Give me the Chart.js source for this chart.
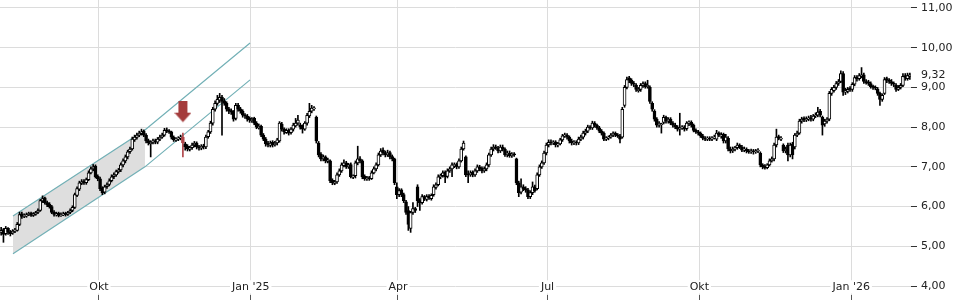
<!DOCTYPE html>
<html><head><meta charset="utf-8">
<script src="https://cdn.jsdelivr.net/npm/chart.js@4/dist/chart.umd.min.js"></script>
<style>html,body{margin:0;padding:0;background:#fff}#wrap{width:960px;height:300px}</style>
</head><body><div id="wrap"><canvas id="c" width="960" height="300"></canvas></div>
<script>
// ---- data ----
const firstTradingDay = [2024, 7, 1]; // 1 Aug 2024, weekdays only
const opens = [
5.35,5.42,5.32,5.45,5.36,5.33,5.38,5.40,5.55,5.82,
5.75,5.76,5.80,5.83,5.78,5.80,5.85,5.90,6.14,6.22,
6.10,6.06,6.00,5.86,5.79,5.83,5.77,5.79,5.83,5.80,
5.85,5.90,5.98,6.28,6.44,6.58,6.64,6.60,6.68,6.85,
6.95,7.02,6.76,6.70,6.46,6.36,6.50,6.56,6.65,6.75,
6.80,6.88,6.92,7.05,7.15,7.25,7.38,7.45,7.68,7.74,
7.80,7.84,7.90,7.80,7.66,7.58,7.62,7.66,7.62,7.70,
7.75,7.80,7.93,7.90,7.88,7.75,7.67,7.70,7.72,7.75,
7.58,7.52,7.44,7.48,7.55,7.60,7.50,7.47,7.53,7.50,
7.76,7.88,8.10,8.45,8.60,8.68,8.76,8.66,8.60,8.46,
8.42,8.38,8.22,8.55,8.46,8.40,8.30,8.28,8.22,8.16,
8.22,8.10,7.98,8.02,7.80,7.70,7.60,7.54,7.62,7.55,
7.60,7.65,8.08,7.95,7.86,7.92,7.86,7.95,8.03,8.10,
8.05,8.02,7.95,8.10,8.28,8.40,8.46,8.25,7.60,7.32,
7.20,7.25,7.14,7.15,6.66,6.58,6.62,6.80,6.90,7.03,
7.10,7.00,7.06,6.74,6.78,7.10,7.20,7.15,6.76,6.70,
6.73,6.70,6.85,6.95,7.05,7.30,7.42,7.36,7.30,7.36,
7.26,7.20,6.50,6.30,6.42,6.30,6.12,5.90,5.45,5.85,
5.95,6.50,6.15,6.10,6.25,6.18,6.26,6.20,6.30,6.48,
6.55,6.75,6.78,6.86,6.76,6.90,6.95,7.03,7.06,7.00,
7.15,7.45,7.25,6.82,6.80,6.86,6.80,6.90,7.00,6.96,
6.90,6.95,7.05,7.30,7.45,7.50,7.48,7.40,7.50,7.45,
7.30,7.35,7.28,7.32,7.20,6.60,6.36,6.50,6.45,6.42,
6.25,6.35,6.50,6.45,6.80,7.00,7.10,7.35,7.55,7.63,
7.60,7.63,7.55,7.58,7.68,7.78,7.80,7.75,7.65,7.60,
7.62,7.60,7.70,7.75,7.85,7.90,8.00,7.98,8.10,8.05,
7.98,7.90,7.85,7.70,7.72,7.75,7.80,7.85,7.80,7.78,
7.75,8.55,9.00,9.24,9.18,9.10,9.06,8.92,8.95,9.05,
9.10,9.02,9.00,8.60,8.40,8.20,8.05,8.06,8.12,8.25,
8.15,8.20,8.10,8.05,8.00,7.95,7.98,8.00,7.96,8.10,
8.12,8.05,7.92,7.88,7.85,7.78,7.72,7.70,7.72,7.70,
7.72,7.70,7.85,7.78,7.82,7.65,7.72,7.45,7.40,7.45,
7.48,7.55,7.50,7.42,7.45,7.40,7.38,7.40,7.38,7.40,
7.35,7.05,7.02,6.98,7.05,7.15,7.20,7.55,7.76,7.70,
7.55,7.40,7.55,7.30,7.58,7.50,7.80,7.85,8.15,8.22,
8.18,8.20,8.24,8.20,8.28,8.30,8.40,8.25,8.08,8.15,
8.20,8.85,8.92,9.00,9.10,9.15,9.35,8.88,8.90,8.98,
8.95,9.08,9.26,9.22,9.28,9.32,9.15,9.14,9.10,9.02,
9.00,8.96,8.85,8.70,8.85,9.22,9.18,9.15,9.10,9.06,
8.95,9.00,9.05,9.30,9.22,9.28
];
const highs = [
5.48,5.45,5.50,5.47,5.40,5.42,5.45,5.60,5.86,5.86,
5.82,5.84,5.86,5.86,5.85,5.88,5.94,6.18,6.27,6.24,
6.14,6.10,6.03,5.90,5.86,5.86,5.84,5.86,5.86,5.88,
5.94,6.02,6.34,6.50,6.64,6.68,6.68,6.72,6.90,7.00,
7.06,7.05,6.80,6.74,6.50,6.54,6.60,6.70,6.80,6.85,
6.92,6.96,7.10,7.20,7.30,7.42,7.50,7.75,7.80,7.85,
7.90,7.95,7.93,7.84,7.70,7.66,7.70,7.70,7.74,7.80,
7.85,7.97,7.98,7.94,7.90,7.78,7.74,7.76,7.80,7.85,
7.62,7.56,7.52,7.60,7.64,7.63,7.54,7.56,7.57,7.80,
7.92,8.15,8.50,8.66,8.80,8.85,8.80,8.72,8.64,8.50,
8.46,8.42,8.60,8.60,8.50,8.44,8.34,8.32,8.26,8.24,
8.25,8.14,8.08,8.05,7.84,7.74,7.64,7.65,7.66,7.64,
7.72,8.14,8.12,7.98,7.96,7.96,7.99,8.10,8.22,8.30,
8.10,8.06,8.14,8.35,8.60,8.55,8.52,8.28,7.64,7.36,
7.30,7.28,7.22,7.18,6.70,6.66,6.85,6.95,7.10,7.18,
7.14,7.09,7.10,6.80,7.15,7.52,7.26,7.18,6.80,6.76,
6.76,6.90,7.00,7.10,7.35,7.46,7.48,7.40,7.42,7.40,
7.30,7.22,6.60,6.45,6.45,6.34,6.16,6.00,5.88,6.10,
5.98,6.55,6.20,6.30,6.28,6.30,6.30,6.32,6.55,6.60,
6.80,6.82,6.90,6.90,6.95,7.00,7.10,7.10,7.10,7.20,
7.50,7.65,7.28,6.90,6.90,6.90,6.95,7.05,7.04,7.00,
7.00,7.10,7.35,7.50,7.56,7.55,7.52,7.55,7.55,7.48,
7.40,7.40,7.36,7.36,7.22,6.64,6.70,6.55,6.50,6.46,
6.40,6.62,6.54,6.85,7.05,7.15,7.40,7.60,7.68,7.68,
7.66,7.66,7.62,7.72,7.82,7.85,7.84,7.78,7.70,7.66,
7.66,7.75,7.80,7.90,7.95,8.05,8.04,8.15,8.14,8.08,
8.02,7.94,7.88,7.76,7.78,7.84,7.88,7.88,7.84,7.82,
8.50,9.05,9.26,9.28,9.22,9.15,9.10,9.00,9.10,9.14,
9.14,9.18,9.04,8.64,8.44,8.24,8.14,8.10,8.30,8.28,
8.24,8.24,8.14,8.10,8.04,8.35,8.04,8.04,8.14,8.16,
8.16,8.08,7.96,7.92,7.88,7.82,7.76,7.76,7.76,7.76,
7.80,7.92,7.88,7.86,7.85,7.82,7.76,7.50,7.50,7.52,
7.60,7.58,7.54,7.50,7.48,7.44,7.45,7.44,7.44,7.46,
7.38,7.08,7.06,7.08,7.20,7.25,7.60,7.95,7.80,7.76,
7.58,7.50,7.60,7.60,7.62,7.84,7.90,8.20,8.25,8.26,
8.26,8.28,8.30,8.32,8.36,8.50,8.45,8.28,8.20,8.24,
8.90,9.00,9.05,9.15,9.20,9.42,9.40,8.98,9.00,9.02,
9.12,9.30,9.30,9.35,9.50,9.36,9.20,9.18,9.14,9.06,
9.04,9.00,8.88,8.84,9.25,9.26,9.22,9.20,9.14,9.10,
9.05,9.10,9.35,9.35,9.36,9.36
];
const lows = [
5.28,5.10,5.28,5.30,5.26,5.30,5.34,5.38,5.52,5.70,
5.72,5.73,5.77,5.75,5.75,5.78,5.82,5.88,6.10,6.06,
6.00,5.96,5.82,5.76,5.76,5.74,5.75,5.77,5.76,5.78,
5.82,5.87,5.95,6.25,6.40,6.55,6.56,6.56,6.65,6.82,
6.90,6.72,6.65,6.40,6.30,6.32,6.46,6.52,6.62,6.70,
6.76,6.84,6.88,7.00,7.10,7.20,7.34,7.42,7.64,7.70,
7.76,7.80,7.76,7.60,7.55,7.25,7.58,7.58,7.58,7.66,
7.72,7.77,7.86,7.84,7.70,7.64,7.64,7.66,7.68,7.25,
7.42,7.40,7.40,7.44,7.50,7.45,7.42,7.43,7.45,7.46,
7.72,7.84,8.05,8.40,8.55,8.62,7.80,8.55,8.40,8.34,
8.32,8.15,8.18,8.40,8.35,8.25,8.22,8.15,8.12,8.12,
8.06,7.96,7.95,7.76,7.66,7.52,7.50,7.50,7.50,7.52,
7.55,7.62,7.90,7.82,7.84,7.80,7.82,7.90,8.00,8.05,
7.95,7.85,7.92,8.05,8.24,8.36,8.42,7.60,7.25,7.15,
7.15,7.10,7.10,6.60,6.55,6.55,6.58,6.76,6.86,7.00,
6.96,6.96,6.72,6.70,6.72,7.05,7.10,6.70,6.66,6.66,
6.66,6.68,6.82,6.90,7.02,7.26,7.30,7.25,7.26,7.20,
7.15,6.55,6.20,6.25,6.25,6.10,5.80,5.40,5.35,5.80,
5.85,6.00,5.90,6.06,6.15,6.14,6.18,6.16,6.26,6.44,
6.52,6.70,6.74,6.60,6.72,6.86,6.75,6.98,6.95,6.96,
7.12,7.42,6.75,6.60,6.76,6.75,6.76,6.86,6.90,6.85,
6.86,6.90,7.00,7.26,7.40,7.44,7.35,7.36,7.40,7.26,
7.25,7.24,7.24,7.26,6.55,6.25,6.32,6.40,6.36,6.20,
6.20,6.30,6.36,6.42,6.76,6.96,7.06,7.30,7.50,7.55,
7.56,7.50,7.50,7.55,7.64,7.74,7.70,7.60,7.55,7.56,
7.55,7.56,7.66,7.70,7.80,7.86,7.94,7.94,8.00,7.94,
7.86,7.80,7.66,7.66,7.68,7.72,7.76,7.76,7.74,7.60,
7.72,8.50,8.96,9.12,9.05,9.02,8.90,8.88,8.90,9.00,
8.98,8.98,8.60,8.40,8.15,8.00,8.00,7.85,8.08,8.10,
8.10,8.06,8.00,7.96,7.90,7.80,7.94,7.90,7.92,8.04,
8.00,7.88,7.84,7.80,7.74,7.68,7.66,7.66,7.66,7.66,
7.70,7.66,7.76,7.72,7.60,7.60,7.40,7.35,7.36,7.40,
7.44,7.46,7.38,7.38,7.35,7.34,7.34,7.32,7.34,7.36,
7.00,6.95,6.94,6.95,7.02,7.12,7.15,7.50,7.68,7.66,
7.36,7.35,7.15,7.25,7.20,7.45,7.76,7.82,8.10,8.14,
8.14,8.16,8.15,8.16,8.24,8.26,8.26,7.80,8.02,8.10,
8.16,8.80,8.88,8.95,9.05,9.12,8.80,8.82,8.86,8.90,
8.90,9.04,9.16,9.18,9.24,9.10,9.08,9.05,8.98,8.95,
8.94,8.80,8.55,8.65,8.82,9.12,9.10,9.05,9.02,8.90,
8.92,8.96,9.02,9.18,9.18,9.20
];
const closes = [
5.40,5.30,5.45,5.35,5.32,5.38,5.40,5.55,5.80,5.75,
5.78,5.80,5.82,5.78,5.82,5.85,5.90,6.15,6.20,6.10,
6.05,6.00,5.85,5.80,5.82,5.78,5.80,5.82,5.80,5.85,
5.90,5.98,6.30,6.45,6.60,6.62,6.60,6.68,6.85,6.95,
7.00,6.75,6.70,6.45,6.35,6.50,6.55,6.65,6.75,6.80,
6.88,6.92,7.05,7.15,7.25,7.38,7.45,7.70,7.75,7.80,
7.85,7.88,7.80,7.65,7.60,7.62,7.65,7.62,7.70,7.75,
7.80,7.92,7.90,7.88,7.75,7.68,7.70,7.72,7.75,7.60,
7.50,7.45,7.48,7.55,7.60,7.50,7.48,7.52,7.50,7.75,
7.88,8.10,8.45,8.60,8.70,8.75,8.65,8.60,8.45,8.40,
8.38,8.20,8.55,8.45,8.40,8.30,8.28,8.20,8.18,8.20,
8.10,8.00,8.02,7.80,7.70,7.58,7.55,7.60,7.55,7.60,
7.68,8.10,7.95,7.88,7.92,7.85,7.95,8.05,8.10,8.18,
8.00,7.95,8.10,8.30,8.40,8.48,8.48,7.65,7.30,7.20,
7.25,7.15,7.18,6.65,6.60,6.62,6.80,6.90,7.05,7.10,
7.00,7.05,6.75,6.75,7.10,7.20,7.15,6.75,6.70,6.72,
6.70,6.85,6.95,7.05,7.30,7.40,7.35,7.30,7.35,7.25,
7.20,6.60,6.30,6.40,6.30,6.15,5.85,5.55,5.85,5.95,
5.90,6.15,6.10,6.25,6.20,6.25,6.22,6.28,6.50,6.55,
6.75,6.78,6.85,6.75,6.90,6.95,7.05,7.05,7.00,7.15,
7.45,7.60,6.80,6.80,6.85,6.80,6.90,7.00,6.95,6.90,
6.95,7.05,7.30,7.45,7.50,7.48,7.40,7.50,7.45,7.30,
7.35,7.28,7.32,7.30,6.60,6.35,6.50,6.45,6.42,6.25,
6.35,6.50,6.40,6.80,7.00,7.10,7.35,7.55,7.62,7.60,
7.62,7.55,7.58,7.68,7.78,7.80,7.75,7.65,7.60,7.62,
7.60,7.70,7.75,7.85,7.90,8.00,7.98,8.10,8.05,7.98,
7.90,7.85,7.70,7.72,7.75,7.80,7.85,7.80,7.78,7.70,
8.45,9.00,9.20,9.18,9.10,9.08,8.95,8.95,9.05,9.10,
9.02,9.05,8.65,8.45,8.20,8.05,8.10,8.06,8.25,8.15,
8.20,8.10,8.05,8.00,7.95,7.98,8.00,7.95,8.10,8.12,
8.05,7.92,7.88,7.85,7.78,7.72,7.70,7.72,7.70,7.72,
7.75,7.85,7.80,7.80,7.65,7.75,7.45,7.40,7.45,7.48,
7.55,7.50,7.42,7.45,7.40,7.38,7.40,7.38,7.40,7.42,
7.05,7.00,6.98,7.05,7.15,7.20,7.55,7.75,7.72,7.72,
7.40,7.45,7.30,7.55,7.30,7.80,7.85,8.15,8.20,8.18,
8.20,8.22,8.20,8.28,8.30,8.38,8.30,8.05,8.15,8.20,
8.85,8.95,9.00,9.10,9.15,9.35,8.88,8.90,8.95,8.95,
9.08,9.25,9.22,9.30,9.32,9.15,9.12,9.10,9.02,9.00,
8.98,8.85,8.70,8.80,9.20,9.18,9.15,9.10,9.08,8.95,
9.00,9.05,9.28,9.25,9.30,9.32
];
const yTickValues = [4, 5, 6, 7, 8, 9, 10, 11];
const quarterNames = {0: 'Jan', 3: 'Apr', 6: 'Jul', 9: 'Okt'};
// trend channel (x = trading-day index, y = price)
const channelUpper = [{x: 5.15, y: 5.76}, {x: 62.5, y: 7.93}, {x: 108.2, y: 10.12}];
const channelLower = [{x: 5.15, y: 4.81}, {x: 62.5, y: 7.00}, {x: 108.2, y: 9.19}];
const channelFillTop = [{x: 5.15, y: 5.76}, {x: 62.5, y: 7.93}];
const channelFillBottom = [{x: 5.15, y: 4.81}, {x: 62.5, y: 7.00}];
const signalIndex = 79;
const signalArrowPrice = 8.39;

// ---- derived ----
const N = closes.length;
const dates = [];
{
  const d = new Date(Date.UTC(firstTradingDay[0], firstTradingDay[1], firstTradingDay[2]));
  while (dates.length < N) {
    const wd = d.getUTCDay();
    if (wd !== 0 && wd !== 6) dates.push(new Date(d));
    d.setUTCDate(d.getUTCDate() + 1);
  }
}
const quarterTicks = [];
for (let i = 1; i < N; i++) {
  const m = dates[i].getUTCMonth();
  if (m !== dates[i - 1].getUTCMonth() && m % 3 === 0) {
    const lbl = m === 0 ? "Jan '" + String(dates[i].getUTCFullYear() % 100).padStart(2, '0') : quarterNames[m];
    quarterTicks.push({value: i - 0.5, label: lbl});
  }
}
const idx = closes.map((_, i) => i);
const RED = '#b0464a';
const bodyFill = idx.map(i => i === signalIndex ? RED : (closes[i] >= opens[i] ? '#ffffff' : '#000000'));
const bodyBorder = idx.map(i => i === signalIndex ? RED : '#000000');

const arrowImg = document.createElement('canvas');
arrowImg.width = 17; arrowImg.height = 22;
{
  const c = arrowImg.getContext('2d');
  c.fillStyle = '#a43c3c';
  c.fillRect(4, 0, 9, 12);
  c.beginPath(); c.moveTo(0, 12); c.lineTo(17, 12); c.lineTo(8.5, 21.5); c.closePath(); c.fill();
}

const FONT = {family: 'DejaVu Sans', size: 11};
const lastLabel = {
  id: 'lastLabel',
  afterDraw(chart) {
    const y = chart.scales.y;
    const ctx = chart.ctx;
    const v = closes[N - 1];
    ctx.save();
    ctx.font = '11px "DejaVu Sans"';
    ctx.fillStyle = '#222';
    ctx.textBaseline = 'middle';
    ctx.textAlign = 'left';
    ctx.fillText(v.toFixed(2).replace('.', ','), y.left + 10, y.getPixelForValue(v));
    ctx.restore();
  }
};

new Chart(document.getElementById('c'), {
  type: 'bar',
  data: {
    datasets: [
      {type: 'line', data: channelFillTop, borderWidth: 0, pointRadius: 0, fill: '+1', backgroundColor: '#dedede', order: 30},
      {type: 'line', data: channelFillBottom, borderWidth: 0, pointRadius: 0, fill: false, order: 31},
      {type: 'line', data: channelUpper, borderColor: '#72b0b6', borderWidth: 1.2, pointRadius: 0, fill: false, order: 20},
      {type: 'line', data: channelLower, borderColor: '#72b0b6', borderWidth: 1.2, pointRadius: 0, fill: false, order: 20},
      {type: 'bar', data: idx.map(i => ({x: i, y: [lows[i], highs[i]]})), backgroundColor: bodyBorder, borderWidth: 0, barThickness: 1, grouped: false, order: 10},
      {type: 'bar', data: idx.map(i => ({x: i, y: [opens[i], closes[i]]})), backgroundColor: bodyFill, borderColor: bodyBorder, borderWidth: 1, borderSkipped: false, barThickness: 3, minBarLength: 1, grouped: false, order: 9},
      {type: 'line', data: [{x: signalIndex, y: signalArrowPrice}], showLine: false, pointStyle: arrowImg, pointRadius: 5, pointHoverRadius: 5, order: 1}
    ]
  },
  options: {
    responsive: false,
    devicePixelRatio: 1,
    animation: false,
    layout: {padding: 0, autoPadding: false},
    plugins: {legend: {display: false}, tooltip: {enabled: false}},
    scales: {
      x: {
        type: 'linear', bounds: 'data', min: -0.5, max: N - 0.5, offset: false,
        afterBuildTicks: s => { s.ticks = quarterTicks.map(t => ({value: t.value})); },
        afterFit: s => { s.height = 5; s.paddingLeft = 0; s.paddingRight = 0; },
        ticks: {
          autoSkip: false, maxRotation: 0, mirror: true, padding: 1.5, z: 1, color: '#222', font: FONT,
          showLabelBackdrop: true, backdropColor: '#ffffff', backdropPadding: {left: 2, right: 2, top: 0, bottom: 0},
          callback: (v, i) => quarterTicks[i] ? quarterTicks[i].label : ''
        },
        grid: {color: '#dcdcdc', lineWidth: 1, drawTicks: true, tickLength: 5, tickColor: '#555', offset: false},
        border: {display: false}
      },
      y: {
        type: 'linear', position: 'right', bounds: 'data', min: 3.7734, max: 11.2014, beginAtZero: false,
        afterBuildTicks: s => { s.ticks = yTickValues.map(v => ({value: v})); },
        afterFit: s => { s.width = 49; s.paddingTop = 0; s.paddingBottom = 0; },
        ticks: {color: '#222', font: FONT, padding: 4, callback: v => v.toFixed(2).replace('.', ',')},
        grid: {color: '#dcdcdc', lineWidth: 1, tickColor: '#333', tickLength: 6},
        border: {display: false}
      }
    }
  },
  plugins: [lastLabel]
});
</script>
</body></html>
